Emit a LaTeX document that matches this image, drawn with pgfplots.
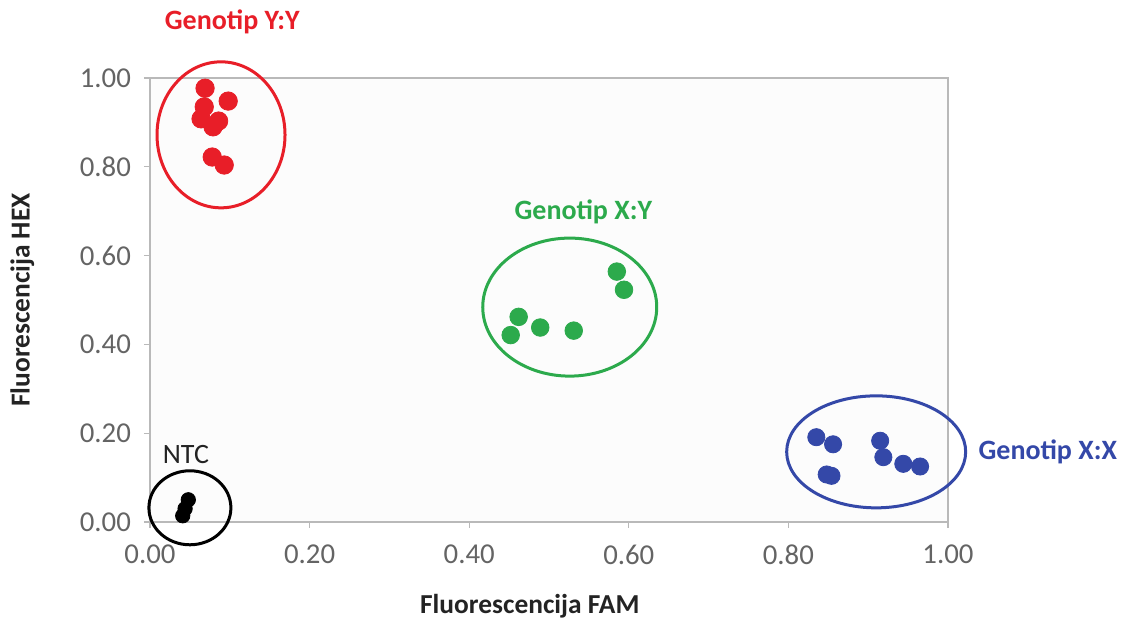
\documentclass[border=0pt]{standalone}
\usepackage{fontspec}
\setmainfont{Carlito}
\usepackage{pgfplots}
\pgfplotsset{compat=1.18}
\definecolor{gred}{RGB}{232,30,40}
\definecolor{ggreen}{RGB}{44,170,76}
\definecolor{gblue}{RGB}{52,72,168}
\definecolor{axisgray}{RGB}{185,185,185}
\definecolor{tickgray}{RGB}{100,100,100}
\definecolor{labelgray}{RGB}{35,35,35}

\begin{document}
\begin{tikzpicture}
\useasboundingbox (-75pt,-49.5pt) rectangle (485.5pt,261pt);
\begin{axis}[
    at={(0,0)}, anchor=south west,
    scale only axis,
    width=399pt, height=222pt,
    xmin=0, xmax=1, ymin=0, ymax=1,
    xtick={0,0.2,0.4,0.6,0.8,1},
    ytick={0,0.2,0.4,0.6,0.8,1},
    clip=false,
    axis background/.style={fill=white!99!black},
    axis line style={draw=axisgray, line width=0.6pt},
    tick style={draw=axisgray, line width=0.6pt},
    tick align=outside, tick pos=left,
    major tick length=3pt,
    ticklabel style={font=\fontsize{14.4}{16}\selectfont, text=tickgray},
    xticklabel style={yshift=-5pt},
    yticklabel style={xshift=-3pt},
    /pgf/number format/fixed,
    /pgf/number format/fixed zerofill,
    /pgf/number format/precision=2,
    /pgf/number format/assume math mode=true,
]

% Genotip Y:Y
\addplot[only marks, mark=*, mark size=4.6pt, color=gred] coordinates {
    (0.069,0.977) (0.098,0.948) (0.068,0.935) (0.064,0.908)
    (0.079,0.890) (0.086,0.903) (0.078,0.822) (0.093,0.804)
};
% Genotip X:Y
\addplot[only marks, mark=*, mark size=4.4pt, color=ggreen] coordinates {
    (0.585,0.564) (0.594,0.523) (0.462,0.462) (0.452,0.421)
    (0.489,0.438) (0.531,0.431)
};
% Genotip X:X
\addplot[only marks, mark=*, mark size=4.3pt, color=gblue] coordinates {
    (0.835,0.191) (0.856,0.175) (0.854,0.104) (0.848,0.107)
    (0.915,0.183) (0.919,0.146) (0.944,0.131) (0.965,0.125)
};
% NTC
\addplot[only marks, mark=*, mark size=3.6pt, color=black] coordinates {
    (0.048,0.050) (0.044,0.030) (0.041,0.014)
};

% cluster outlines
\draw[gred, line width=1.5pt] (axis cs:0.089,0.872) ellipse [x radius=32pt, y radius=36.5pt];
\draw[ggreen, line width=1.5pt] (axis cs:0.526,0.484) ellipse [x radius=43.5pt, y radius=34.5pt];
\draw[gblue, line width=1.5pt] (axis cs:0.910,0.158) ellipse [x radius=44.75pt, y radius=28pt];
\draw[black, line width=1.5pt] (axis cs:0.050,0.032) ellipse [x radius=20.5pt, y radius=18.5pt];

% cluster names
\node[text=gred, font=\bfseries\fontsize{14}{16}\selectfont] at (axis cs:0.103,1.126) {Genotip Y:Y};
\node[text=ggreen, font=\bfseries\fontsize{14}{16}\selectfont] at (axis cs:0.543,0.698) {Genotip X:Y};
\node[text=gblue, font=\bfseries\fontsize{14}{16}\selectfont] at (axis cs:1.125,0.158) {Genotip X:X};
\node[text=labelgray, font=\fontsize{14}{16}\selectfont] at (axis cs:0.045,0.151) {NTC};

% axis titles
\node[text=labelgray, font=\bfseries\fontsize{13.7}{16}\selectfont] at (axis description cs:0.476,-0.189) {Fluorescencija FAM};
\node[text=labelgray, rotate=90, font=\bfseries\fontsize{13.7}{16}\selectfont] at (axis description cs:-0.160,0.5) {Fluorescencija HEX};
\end{axis}
\end{tikzpicture}
\end{document}
